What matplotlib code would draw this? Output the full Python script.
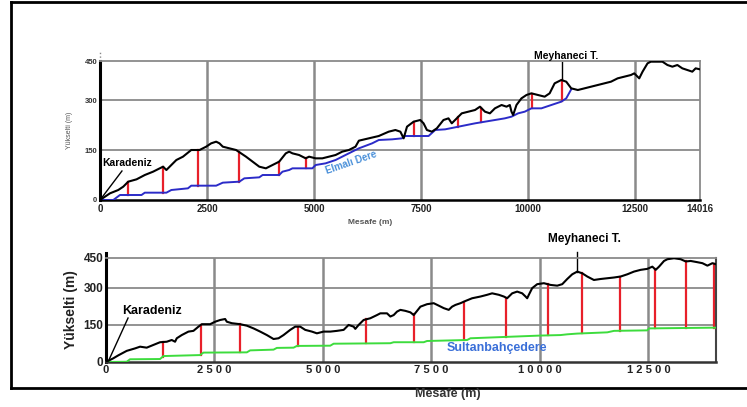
import numpy as np
import matplotlib
matplotlib.use("Agg")
import matplotlib.pyplot as plt
from matplotlib.lines import Line2D

plt.rcParams['font.family'] = ['Liberation Sans', 'DejaVu Sans']

# ---- top profile: ridge (black) and Elmalı Dere (blue) ----
top_ridge_x = [0, 232, 426, 543, 659, 853, 1046, 1240, 1395, 1473, 1550, 1666, 1783, 1938, 2131,
               2325, 2480, 2596, 2713, 2790, 2868, 3023, 3178, 3294, 3410, 3565, 3720, 3875, 4030,
               4185, 4340, 4418, 4495, 4650, 4805, 4883, 5038, 5193, 5348, 5503, 5658, 5813, 5968,
               6047, 6279, 6512, 6744, 6900, 7016, 7093, 7171, 7326, 7481, 7558, 7636, 7752, 7868,
               8023, 8140, 8217, 8372, 8450, 8605, 8760, 8876, 8992, 9108, 9225, 9302, 9380, 9496,
               9573, 9612, 9651, 9728, 9845, 9961, 10077, 10232, 10387, 10503, 10620, 10775, 10891,
               11007, 11162, 11317, 11472, 11627, 11782, 11937, 12092, 12247, 12402, 12480, 12557,
               12596, 12674, 12790, 12867, 13022, 13138, 13255, 13371, 13487, 13603, 13720, 13836,
               13914, 14016]
top_ridge_y = [0, 20, 30, 40, 55, 62, 75, 85, 95, 100, 90, 105, 120, 130, 150,
               150, 160, 170, 175, 170, 160, 155, 150, 140, 130, 115, 100, 95, 105,
               115, 140, 145, 140, 135, 125, 130, 125, 125, 130, 135, 145, 150, 160,
               178, 185, 192, 205, 210, 205, 185, 220, 235, 240, 230, 210, 205, 215,
               240, 245, 230, 250, 260, 265, 270, 280, 265, 260, 275, 280, 285, 280,
               285, 265, 255, 285, 305, 315, 320, 315, 310, 320, 350, 360, 355,
               335, 330, 335, 340, 345, 350, 355, 365, 370, 375, 380, 370,
               365, 385, 410, 415, 415, 415, 405, 400, 405, 395, 390, 385,
               395, 392]
top_stream_x = [0, 310, 465, 969, 1046, 1550, 1666, 2054, 2131, 2713, 2868, 3255, 3371, 3720,
                3798, 4185, 4263, 4418, 4495, 4960, 5038, 5270, 5503, 5735, 5890, 6047, 6357,
                6512, 6822, 7054, 7132, 7675, 7830, 8062, 8295, 8450, 8760, 8992, 9225, 9457,
                9612, 9767, 9922, 10077, 10310, 10542, 10775, 10891, 11007]
top_stream_y = [0, 0, 15, 15, 22, 22, 30, 35, 43, 43, 52, 55, 65, 68,
                75, 75, 85, 90, 95, 95, 105, 110, 120, 135, 145, 155, 170,
                180, 182, 185, 192, 192, 210, 212, 218, 222, 230, 235, 240, 245,
                250, 260, 265, 275, 275, 285, 295, 305, 332]
top_red_x = [659, 1473, 2290, 3255, 4185, 4820, 7326, 8372, 8900, 10100, 10790]

# ---- bottom profile: ridge (black) and Sultanbahçedere (green) ----
bot_ridge_x = [0, 169, 285, 477, 669, 785, 938, 1092, 1246, 1400, 1515, 1592, 1631, 1746, 1900,
               2015, 2131, 2208, 2400, 2515, 2631, 2746, 2785, 2900, 3092, 3246, 3400, 3554, 3708,
               3862, 3977, 4092, 4246, 4361, 4477, 4592, 4746, 4861, 5015, 5169, 5323, 5477, 5592,
               5708, 5746, 5823, 5938, 6092, 6246, 6323, 6477, 6554, 6631, 6708, 6785, 6900, 7016,
               7093, 7170, 7247, 7400, 7554, 7670, 7785, 7900, 7977, 8054, 8170, 8285, 8439, 8631,
               8785, 8900, 9054, 9170, 9246, 9362, 9477, 9593, 9670, 9708, 9746, 9823, 9939, 10093,
               10246, 10400, 10516, 10631, 10746, 10862, 10977, 11093, 11246, 11400, 11554, 11708,
               11862, 12016, 12170, 12323, 12477, 12593, 12670, 12747, 12862, 12939, 13093, 13247,
               13362, 13477, 13631, 13747, 13862, 13977, 14054]
bot_ridge_y = [0, 15, 27, 45, 55, 62, 58, 69, 80, 82, 89, 82, 96, 109, 123,
               126, 143, 153, 153, 163, 170, 174, 163, 157, 153, 147, 136, 123, 109,
               93, 96, 109, 130, 143, 143, 130, 123, 116, 123, 123, 126, 130, 150,
               143, 134, 150, 170, 177, 190, 197, 197, 184, 190, 204, 211, 207, 201,
               190, 207, 224, 234, 238, 228, 218, 211, 224, 231, 238, 247, 258, 265,
               272, 278, 272, 265, 258, 278, 285, 278, 265, 258, 272, 299, 315, 319,
               312, 309, 315, 336, 355, 366, 359, 346, 332, 336, 339, 342,
               346, 355, 366, 373, 377, 386, 373, 386, 409, 416, 420, 416,
               407, 409, 404, 400, 390, 400, 396]
bot_stream_x = [0, 477, 554, 1246, 1323, 2169, 2246, 3246, 3323, 3862, 3938, 4323, 4400, 5169,
                5246, 6554, 6631, 7323, 7400, 8324, 8400, 10016, 10477, 10631, 10862, 11554,
                11708, 12477, 12516, 14054]
bot_stream_y = [0, 1, 11, 12, 24, 28, 38, 39, 47, 50, 57, 58, 65, 66,
                74, 76, 80, 80, 85, 89, 96, 107, 109, 112, 115, 120,
                126, 128, 136, 139]
bot_red_x = [1308, 2185, 3092, 4415, 6000, 7108, 8246, 9231, 10185, 10977, 11846, 12654,
             13362, 14015]

top_xticks = [0, 2500, 5000, 7500, 10000, 12500, 14016]
top_xlabels = ['0', '2500', '5000', '7500', '10000', '12500', '14016']
bot_xticks = [0, 2500, 5000, 7500, 10000, 12500]
bot_xlabels = ['0', '2 5 0 0', '5 0 0 0', '7 5 0 0', '1 0 0 0 0', '1 2 5 0 0']
ylabels = ['0', '150', '300', '450']

GRID = '#8a8a8a'


def draw_profile(ax, rx, ry, sx, sy, red_x, stream_col, xmax, ymax):
    ax.set_xlim(0, xmax)
    ax.set_ylim(0, ymax)
    for v in [2500, 5000, 7500, 10000, 12500]:
        ax.axvline(v, color=GRID, lw=1.8, zorder=1)
    for v in [150, 300]:
        ax.axhline(v, color=GRID, lw=1.3, zorder=1)
    # red connectors between ridge and stream
    for x in red_x:
        lo = np.interp(x, sx, sy)
        hi = np.interp(x, rx, ry)
        ax.plot([x, x], [lo, hi], color='#e8202a', lw=1.6, zorder=2)
    ax.plot(sx, sy, color=stream_col, lw=1.4, zorder=3)
    ax.plot(rx, ry, color='black', lw=1.5, zorder=4)
    for s in ['top', 'right']:
        ax.spines[s].set_color(GRID)
        ax.spines[s].set_linewidth(1.3)
    ax.spines['left'].set_linewidth(2.2)
    ax.spines['bottom'].set_linewidth(1.8)
    ax.tick_params(length=0)


fig = plt.figure(figsize=(7.47, 4.07), dpi=100)

# ---------- top chart ----------
ax1 = fig.add_axes([0.1339, 0.5086, 0.8032, 0.3415])
draw_profile(ax1, top_ridge_x, top_ridge_y, top_stream_x, top_stream_y, top_red_x,
             '#2b2bc8', 14016, 417)
ax1.set_xticks(top_xticks)
ax1.set_xticklabels(top_xlabels, fontsize=7, fontweight='bold', color='#222222')
ax1.set_yticks([0, 150, 300, 417])
ax1.set_yticklabels(ylabels, fontsize=5.5, fontweight='bold', color='#333333')
ax1.tick_params(axis='x', pad=3)
ax1.tick_params(axis='y', pad=2)
ax1.set_ylabel('Yükselti (m)', fontsize=5, color='#555555', labelpad=8)
ax1.text(0.45, -0.16, 'Mesafe (m)', transform=ax1.transAxes, fontsize=6,
         fontweight='bold', color='#555555', ha='center', va='center')
ax1.plot([0, 0], [417, 450], color='#888888', lw=1, ls=':', clip_on=False)
ax1.text(47, 111, 'Karadeniz', fontsize=7.5, fontweight='bold', va='center')
ax1.plot([512, 0], [87, 0], color='black', lw=1, clip_on=False)
ax1.text(10900, 433, 'Meyhaneci T.', fontsize=7.5, fontweight='bold', ha='center',
         va='center', clip_on=False)
ax1.plot([10790, 10790], [414, 363], color='black', lw=1, clip_on=False)
ax1.text(5860, 113, 'Elmalı Dere', fontsize=7, fontweight='bold', color='#4a90d9',
         rotation=19, ha='center', va='center')

# ---------- bottom chart ----------
ax2 = fig.add_axes([0.1419, 0.1106, 0.8166, 0.2555])
draw_profile(ax2, bot_ridge_x, bot_ridge_y, bot_stream_x, bot_stream_y, bot_red_x,
             '#3ddc3d', 14060, 421)
ax2.spines['right'].set_color('#444444')
ax2.spines['right'].set_linewidth(1.5)
ax2.spines['bottom'].set_color('#333333')
ax2.set_xticks(bot_xticks)
ax2.set_xticklabels(bot_xlabels, fontsize=8, fontweight='bold', color='#222222')
ax2.set_yticks([0, 150, 300, 421])
ax2.set_yticklabels(ylabels, fontsize=8.5, fontweight='bold', color='#222222')
ax2.tick_params(axis='x', pad=2)
ax2.tick_params(axis='y', pad=2)
ax2.set_ylabel('Yükselti (m)', fontsize=10, fontweight='bold', color='#222222', labelpad=4)
ax2.plot([0, 0], [421, 440], color='black', lw=2.2, clip_on=False)
ax2.text(369, 207, 'Karadeniz', fontsize=9, fontweight='bold', va='center')
ax2.plot([508, 46], [178, 0], color='black', lw=1, clip_on=False)
ax2.text(11031, 499, 'Meyhaneci T.', fontsize=8.5, fontweight='bold', ha='center',
         va='center', clip_on=False)
ax2.plot([10850, 10850], [446, 365], color='black', lw=1, clip_on=False)
ax2.text(9000, 57, 'Sultanbahçedere', fontsize=9, fontweight='bold', color='#3a6fd8',
         ha='center', va='center')

# outer frame
fig.add_artist(Line2D([11 / 747, 11 / 747], [1 - 2 / 407, 1 - 388 / 407],
                      transform=fig.transFigure, color='black', lw=2))
fig.add_artist(Line2D([11 / 747, 1], [1 - 2 / 407, 1 - 2 / 407],
                      transform=fig.transFigure, color='black', lw=2))
fig.add_artist(Line2D([11 / 747, 1], [1 - 388 / 407, 1 - 388 / 407],
                      transform=fig.transFigure, color='black', lw=2))
fig.text(448 / 747, 1 - 394 / 407, 'Mesafe (m)', fontsize=9, fontweight='bold',
         color='#333333', ha='center', va='center')

fig.savefig('out.png', dpi=100)
